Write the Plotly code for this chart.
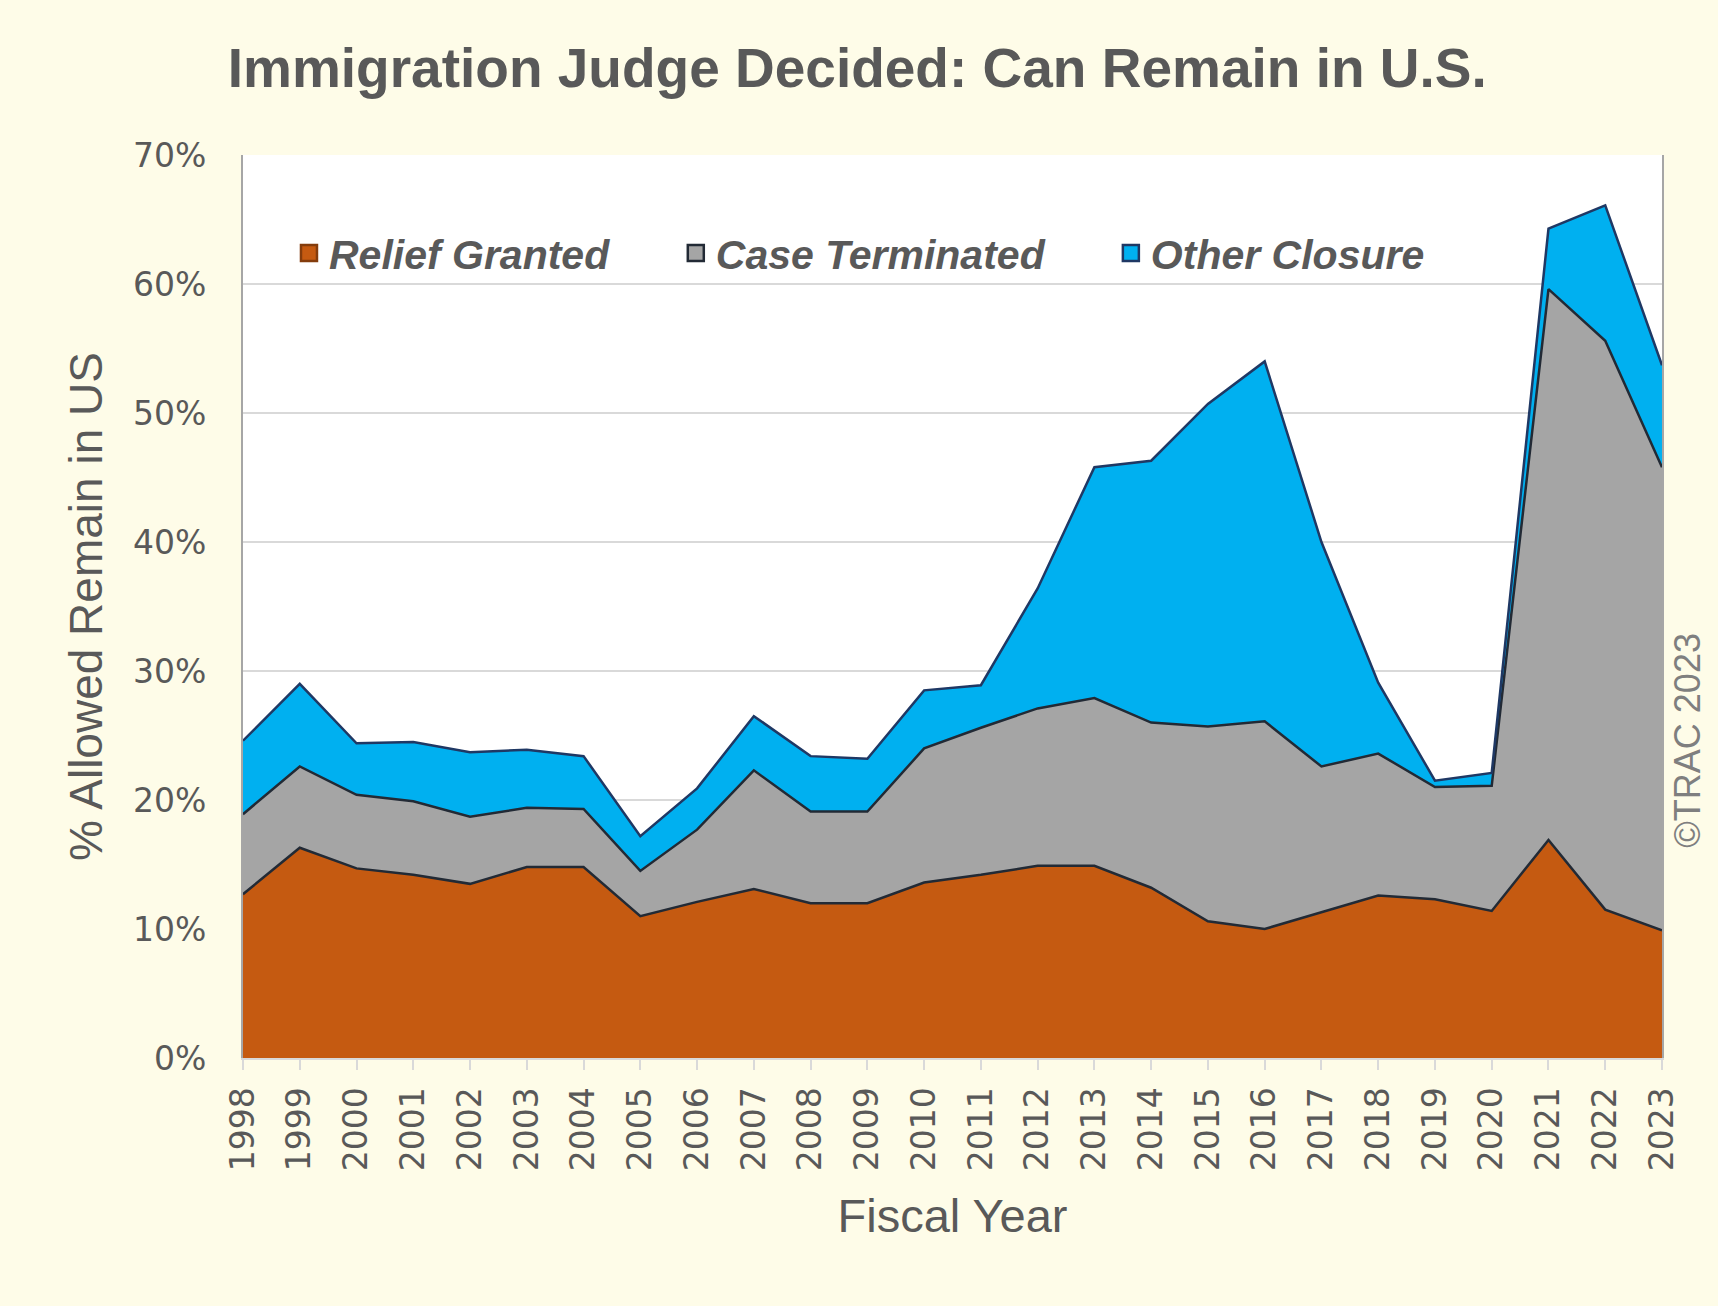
import plotly.graph_objects as go

years = list(range(1998, 2024))
relief_granted = [12.7, 16.3, 14.7, 14.2, 13.5, 14.8, 14.8, 11.0, 12.1, 13.1, 12.0, 12.0, 13.6,
                  14.2, 14.9, 14.9, 13.2, 10.6, 10.0, 11.3, 12.6, 12.3, 11.4, 16.9, 11.5, 9.9]
case_terminated = [6.2, 6.3, 5.7, 5.7, 5.2, 4.6, 4.5, 3.5, 5.6, 9.2, 7.1, 7.1, 10.4,
                   11.4, 12.2, 13.0, 12.8, 15.1, 16.1, 11.3, 11.0, 8.7, 9.7, 42.7, 44.1, 35.9]
other_closure = [5.7, 6.4, 4.0, 4.6, 5.0, 4.5, 4.1, 2.7, 3.2, 4.2, 4.3, 4.1, 4.5,
                 3.3, 9.3, 17.9, 20.3, 25.0, 27.9, 17.4, 5.5, 0.5, 1.0, 4.7, 10.5, 7.9]
series_names = ["Relief Granted", "Case Terminated", "Other Closure"]
y_ticks = [0, 10, 20, 30, 40, 50, 60, 70]
y_tick_labels = ["0%", "10%", "20%", "30%", "40%", "50%", "60%", "70%"]

fills = ["#C55A11", "#A5A5A5", "#00B0F0"]
lines = ["#222A35", "#222A35", "#1F3864"]
legend_borders = ["#843C0C", "#222A35", "#1F3864"]
legends = ["legend", "legend2", "legend3"]

fig = go.Figure()
for name, vals, fc, lc in zip(series_names, [relief_granted, case_terminated, other_closure],
                              fills, lines):
    fig.add_trace(go.Scatter(
        x=years, y=vals, name=name, stackgroup="one", mode="lines",
        line=dict(color=lc, width=2.5), fillcolor=fc, showlegend=False,
    ))
# legend swatches
for name, fc, bc, lg in zip(series_names, fills, legend_borders, legends):
    fig.add_trace(go.Scatter(
        x=[None], y=[None], name=name, mode="markers", legend=lg,
        marker=dict(symbol="square", size=22, color=fc, line=dict(color=bc, width=2.5)),
    ))

grey = "#595959"
leg_font = dict(family="Liberation Sans, Arial", size=41, color=grey,
                style="italic", weight="bold")
leg_common = dict(orientation="h", bgcolor="rgba(0,0,0,0)", font=leg_font,
                  xanchor="left", yanchor="middle", y=0.891, itemwidth=30)

fig.update_layout(
    width=1718, height=1306,
    paper_bgcolor="#FEFCE8", plot_bgcolor="#FFFFFF",
    margin=dict(l=243, r=56, t=155, b=248),
    title=dict(text="<b>Immigration Judge Decided: Can Remain in U.S.</b>",
               x=0.499, xanchor="center", y=0.948, yanchor="middle",
               font=dict(family="Liberation Sans, Arial", size=55, color=grey)),
    legend=dict(x=0.0324, **leg_common),
    legend2=dict(x=0.305, **leg_common),
    legend3=dict(x=0.6116, **leg_common),
    showlegend=True,
    xaxis=dict(
        range=[1998, 2023], tickmode="linear", tick0=1998, dtick=1,
        tickangle=-90, ticks="outside", ticklen=10, tickcolor="#D9D9D9", tickwidth=2,
        showgrid=False, showline=True, linecolor="#D9D9D9", linewidth=2,
        tickfont=dict(family="DejaVu Sans", size=33, color=grey),
        title=dict(text="Fiscal Year", standoff=29,
                   font=dict(family="Liberation Sans, Arial", size=47, color=grey)),
        ticklabelstandoff=4,
    ),
    yaxis=dict(
        range=[0, 70], tickmode="array", tickvals=y_ticks, ticktext=y_tick_labels,
        showgrid=True, gridcolor="#D9D9D9", gridwidth=2,
        showline=True, linecolor="#A6A6A6", linewidth=2, mirror=True,
        ticks="", tickfont=dict(family="DejaVu Sans", size=33, color=grey),
        ticklabelstandoff=28, zeroline=False,
        title=dict(text="% Allowed Remain in US", standoff=16,
                   font=dict(family="Liberation Sans, Arial", size=46, color=grey)),
    ),
)

fig.add_annotation(text="©TRAC 2023", xref="paper", yref="paper", x=1.018, y=0.352,
                   textangle=-90, showarrow=False, xanchor="center", yanchor="middle",
                   font=dict(family="Liberation Sans, Arial", size=36, color="#7F7F7F"))

fig.write_html("out.html", config={"displayModeBar": False},
               post_script="document.body.style.margin='0';document.body.style.overflow='hidden';")
